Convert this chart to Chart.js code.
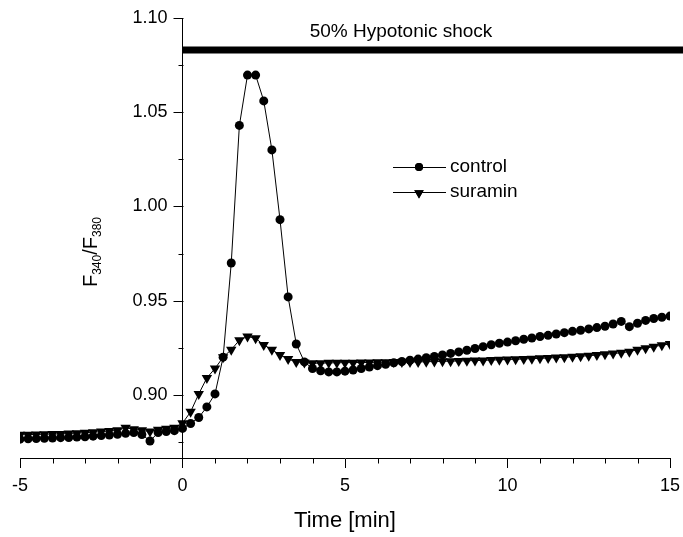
<!DOCTYPE html>
<html>
<head>
<meta charset="utf-8">
<title>Hypotonic shock</title>
<script src="https://cdn.jsdelivr.net/npm/chart.js@4.4.1/dist/chart.umd.min.js"></script>
<style>
  html, body { margin: 0; padding: 0; background: #fff; }
  #wrap { width: 683px; height: 537px; }
</style>
</head>
<body>
<div id="wrap"><canvas id="chart"></canvas></div>
<script>
// time points [min], one every 15 s
const timeMin = [
  -5, -4.75, -4.5, -4.25, -4, -3.75, -3.5, -3.25, -3, -2.75, -2.5, -2.25, -2, -1.75, -1.5, -1.25,
  -1, -0.75, -0.5, -0.25, 0, 0.25, 0.5, 0.75, 1, 1.25, 1.5, 1.75, 2, 2.25, 2.5, 2.75,
  3, 3.25, 3.5, 3.75, 4, 4.25, 4.5, 4.75, 5, 5.25, 5.5, 5.75, 6, 6.25, 6.5, 6.75,
  7, 7.25, 7.5, 7.75, 8, 8.25, 8.5, 8.75, 9, 9.25, 9.5, 9.75, 10, 10.25, 10.5, 10.75,
  11, 11.25, 11.5, 11.75, 12, 12.25, 12.5, 12.75, 13, 13.25, 13.5, 13.75, 14, 14.25, 14.5, 14.75, 15
];

// F340/F380 ratio
const control = [
  0.8765, 0.8767, 0.8768, 0.8770, 0.8771, 0.8773, 0.8774, 0.8776, 0.8778, 0.8781, 0.8784, 0.8787, 0.8791, 0.8796, 0.8800, 0.8790,
  0.8755, 0.8800, 0.8805, 0.8810, 0.8822, 0.8848, 0.8880, 0.8936, 0.9005, 0.9200, 0.9700, 1.0430, 1.0697, 1.0697, 1.0560, 1.0300,
  0.9930, 0.9520, 0.9270, 0.9175, 0.9140, 0.9128, 0.9122, 0.9122, 0.9126, 0.9132, 0.9140, 0.9148, 0.9155, 0.9162, 0.9170, 0.9177,
  0.9184, 0.9190, 0.9197, 0.9204, 0.9212, 0.9220, 0.9228, 0.9237, 0.9246, 0.9256, 0.9266, 0.9274, 0.9280, 0.9287, 0.9295, 0.9302,
  0.9310, 0.9316, 0.9323, 0.9330, 0.9337, 0.9343, 0.9350, 0.9357, 0.9364, 0.9376, 0.9390, 0.9362, 0.9380, 0.9395, 0.9405, 0.9412, 0.9418
];

const suramin = [
  0.8788, 0.8789, 0.8790, 0.8791, 0.8792, 0.8793, 0.8795, 0.8797, 0.8799, 0.8802, 0.8805, 0.8808, 0.8812, 0.8825, 0.8818, 0.8812,
  0.8805, 0.8815, 0.8820, 0.8826, 0.8850, 0.8910, 0.9005, 0.9090, 0.9140, 0.9200, 0.9240, 0.9290, 0.9310, 0.9300, 0.9265, 0.9240,
  0.9212, 0.9190, 0.9175, 0.9172, 0.9168, 0.9168, 0.9170, 0.9170, 0.9171, 0.9171, 0.9172, 0.9172, 0.9173, 0.9173, 0.9174, 0.9174,
  0.9175, 0.9175, 0.9176, 0.9177, 0.9178, 0.9179, 0.9180, 0.9181, 0.9182, 0.9183, 0.9185, 0.9186, 0.9188, 0.9189, 0.9191, 0.9192,
  0.9194, 0.9196, 0.9198, 0.9200, 0.9202, 0.9205, 0.9208, 0.9211, 0.9215, 0.9219, 0.9224, 0.9229, 0.9240, 0.9248, 0.9256, 0.9264, 0.9270
];

// the bar marking the hypotonic shock (starts at t = 0, runs off the right edge)
const shockTimes = [0, 15.5];
const shockLevel = 1.083;
const shockLabel = '50% Hypotonic shock';

const xMajorTicks = [-5, 0, 5, 10, 15];
const xMinorTicks = [-4, -3, -2, -1, 1, 2, 3, 4, 6, 7, 8, 9, 11, 12, 13, 14];
const yMajorTicks = [0.90, 0.95, 1.00, 1.05, 1.10];
const yMinorTicks = [0.875, 0.925, 0.975, 1.025, 1.075];

const FONT = '"Liberation Sans", Arial, Helvetica, sans-serif';

const toPoints = (xs, ys) => xs.map((x, i) => ({x: x, y: ys[i]}));

// y axis ticks + labels (the axis sits at t = 0), minor ticks, shock label, legend, y title
const extrasPlugin = {
    id: 'extras',
    afterDraw(chart) {
        const ctx = chart.ctx;
        const xs = chart.scales.x;
        const ys = chart.scales.y;
        const x0 = Math.round(xs.getPixelForValue(0)) + 0.5;
        const bottom = Math.round(chart.chartArea.bottom) + 0.5;

        ctx.save();
        ctx.strokeStyle = '#000';
        ctx.fillStyle = '#000';
        ctx.lineWidth = 1;
        ctx.beginPath();
        xMinorTicks.forEach(v => {
            const px = Math.round(xs.getPixelForValue(v)) + 0.5;
            ctx.moveTo(px, bottom);
            ctx.lineTo(px, bottom + 5);
        });
        yMinorTicks.forEach(v => {
            const py = Math.round(ys.getPixelForValue(v)) + 0.5;
            ctx.moveTo(x0, py);
            ctx.lineTo(x0 - 5, py);
        });
        yMajorTicks.forEach(v => {
            const py = Math.round(ys.getPixelForValue(v)) + 0.5;
            ctx.moveTo(x0, py);
            ctx.lineTo(x0 - 10, py);
        });
        ctx.stroke();

        ctx.font = '18px ' + FONT;
        ctx.textAlign = 'right';
        ctx.textBaseline = 'middle';
        yMajorTicks.forEach(v => {
            ctx.fillText(v.toFixed(2), x0 - 16, ys.getPixelForValue(v));
        });

        ctx.textAlign = 'center';
        ctx.font = '19px ' + FONT;
        ctx.fillText(shockLabel, 401, 32);

        // legend
        const legend = [
            {label: 'control', style: 'circle', r: 4, rot: 0, y: 167},
            {label: 'suramin', style: 'triangle', r: 5.5, rot: 180, y: 192}
        ];
        ctx.textAlign = 'left';
        ctx.font = '19px ' + FONT;
        legend.forEach(item => {
            ctx.beginPath();
            ctx.moveTo(393, item.y + 0.5);
            ctx.lineTo(446, item.y + 0.5);
            ctx.stroke();
            Chart.helpers.drawPoint(ctx, {pointStyle: item.style, radius: item.r, rotation: item.rot, borderWidth: 0},
                419, item.y + (item.style === 'triangle' ? 1 : 0));
            ctx.fill();
            ctx.fillText(item.label, 450, item.y);
        });

        // y axis title: F340/F380
        ctx.translate(90, 252);
        ctx.rotate(-Math.PI / 2);
        const big = '20px ' + FONT;
        const small = '12px ' + FONT;
        const parts = [['F', big, 0], ['340', small, 4], ['/F', big, 0], ['380', small, 4]];
        let total = 0;
        parts.forEach(p => { ctx.font = p[1]; total += ctx.measureText(p[0]).width; });
        let cx = -total / 2;
        ctx.textBaseline = 'alphabetic';
        parts.forEach(p => {
            ctx.font = p[1];
            ctx.fillText(p[0], cx, 7 + p[2]);
            cx += ctx.measureText(p[0]).width;
        });
        ctx.restore();
    }
};

new Chart(document.getElementById('chart'), {
    type: 'scatter',
    data: {
        datasets: [{
            label: 'shock',
            data: toPoints(shockTimes, [shockLevel, shockLevel]),
            showLine: true,
            borderColor: '#000',
            borderWidth: 7,
            pointRadius: 0,
            clip: false
        }, {
            label: 'control',
            data: toPoints(timeMin, control),
            showLine: true,
            borderColor: '#000',
            borderWidth: 1,
            backgroundColor: '#000',
            pointStyle: 'circle',
            pointRadius: 4.5,
            pointBorderWidth: 0
        }, {
            label: 'suramin',
            data: toPoints(timeMin, suramin),
            showLine: true,
            borderColor: '#000',
            borderWidth: 1,
            backgroundColor: '#000',
            pointStyle: 'triangle',
            pointRotation: 180,
            pointRadius: 6,
            pointBorderWidth: 0
        }]
    },
    options: {
        responsive: true,
        maintainAspectRatio: false,
        animation: false,
        layout: {padding: {left: 20, right: 13, top: 18, bottom: 0}},
        plugins: {
            legend: {display: false},
            tooltip: {enabled: false}
        },
        scales: {
            x: {
                type: 'linear',
                min: -5,
                max: 15,
                afterBuildTicks: s => { s.ticks = xMajorTicks.map(v => ({value: v})); },
                afterFit: s => { s.height = 79; s.paddingLeft = 0; s.paddingRight = 0; },
                grid: {drawOnChartArea: false, tickLength: 10, color: '#000', lineWidth: 1},
                border: {color: '#000', width: 1},
                ticks: {color: '#000', font: {family: FONT, size: 18}, padding: 7, maxRotation: 0},
                title: {display: true, text: 'Time [min]', color: '#000', font: {family: FONT, size: 22}, padding: {top: 0, bottom: 3}}
            },
            y: {
                type: 'linear',
                position: {x: 0},
                min: 0.8665,
                max: 1.10,
                afterBuildTicks: s => { s.ticks = yMajorTicks.map(v => ({value: v})); },
                grid: {drawOnChartArea: false, drawTicks: false},
                border: {color: '#000', width: 1},
                ticks: {display: false}
            }
        }
    },
    plugins: [extrasPlugin]
});
</script>
</body>
</html>
